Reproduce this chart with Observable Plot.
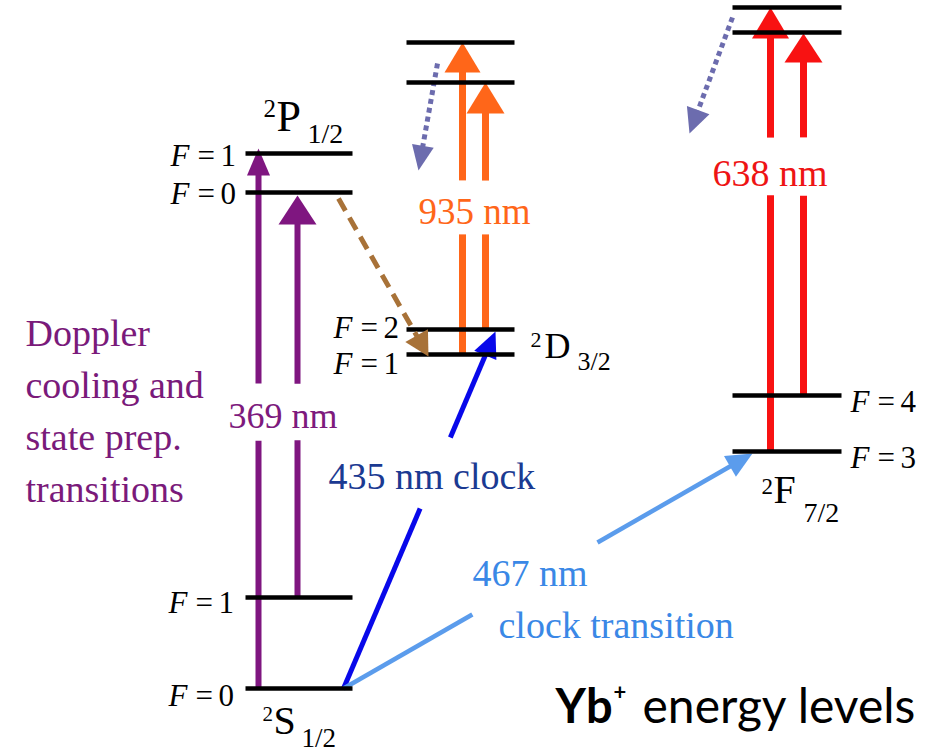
<!DOCTYPE html>
<html>
<head>
<meta charset="utf-8">
<script src="https://cdn.jsdelivr.net/npm/d3@7"></script>
<script src="https://cdn.jsdelivr.net/npm/@observablehq/plot@0.6"></script>
<style>
  html, body { margin: 0; padding: 0; background: #fff; }
  #chart { width: 948px; height: 752px; overflow: hidden; }
</style>
</head>
<body>
<div id="chart"></div>
<script>
// ---------------- DATA ----------------
// Energy levels (arbitrary energy units, higher = more energetic)
const levelTerm   = ["S", "S", "P", "P", "D", "D", "Dx", "Dx", "F", "F", "Fx", "Fx"];
const levelF      = ["0", "1", "0", "1", "1", "2", "",   "",   "3", "4", "",   ""];
const levelEnergy = [64, 155, 560, 599, 398, 423, 670, 710, 301, 357, 720, 745];

// Term symbols
const termKey    = ["S", "P", "D", "F"];
const termLetter = ["S", "P", "D", "F"];
const termSup    = ["2", "2", "2", "2"];
const termSub    = ["1/2", "1/2", "3/2", "7/2"];

// Transitions (start / end in x-column units and energy units)
const transitionName = ["369 nm", "369 nm", "935 nm", "935 nm", "638 nm", "638 nm",
                        "435 nm clock", "467 nm clock", "decay P-D", "decay D", "decay F"];
const arrowX1 = [258, 297, 462, 485, 770, 803, 343, 343, 338, 437, 732];
const arrowE1 = [64, 155, 398, 423, 301, 357, 64, 64, 554, 689, 735];
const arrowX2 = [258, 297, 462, 485, 770, 803, 495, 752, 428, 418, 689];
const arrowE2 = [604, 557, 710, 670, 745, 719, 421, 299, 396, 582, 619];
const arrowGap = [[0.459, 0.565], [0.391, 0.532], [0.385, 0.558], [0.385, 0.603],
                  [0.577, 0.707], [0.552, 0.713], [0.504, 0.703], [0.315, 0.621],
                  null, null, null];

// Texts
const labelText    = ["369 nm", "935 nm", "638 nm", "435 nm clock", "467 nm", "clock transition"];
const dopplerLines = ["Doppler", "cooling and", "state prep.", "transitions"];
const titleParts   = ["Yb", "+", "energy levels"];

// ---------------- LAYOUT / STYLE ----------------
const SERIF = "Liberation Serif";
const SANS = "Lato";
const PURPLE = "#7f1680", ORANGE = "#ff6619", RED = "#f81212", BLUE = "#0808ea",
      LBLUE = "#5b9cec", BROWN = "#a87238", DOT = "#6c6cae";

const colX = {S: [245, 352], P: [245, 352], D: [406, 514], Dx: [406, 514], F: [732, 841], Fx: [732, 841]};
const fLabelX = {S: 168, P: 170, D: 333, F: 850};
const fLabelDrop = [17, 15, 11, 12, 19, 8, 0, 0, 16, 16, 0, 0];
const fLabelSize = 31;

const termLayout = {
  S: {supX: 262, supE: 32,  supSize: 21, letX: 273, letE: 19,  letSize: 40, subX: 301, subE: 6,   subSize: 27},
  P: {supX: 263, supE: 636, supSize: 25, letX: 276, letE: 622, letSize: 44, subX: 307, subE: 610, subSize: 28},
  D: {supX: 530, supE: 406, supSize: 22, letX: 544, letE: 395, letSize: 36, subX: 577, subE: 383, subSize: 26},
  F: {supX: 761, supE: 259, supSize: 23, letX: 773, letE: 250, letSize: 40, subX: 803, subE: 231, subSize: 28}
};

const arrowStyle = [
  {color: PURPLE, width: 6, headW: 23, headL: 27},
  {color: PURPLE, width: 6, headW: 38, headL: 29},
  {color: ORANGE, width: 7, headW: 36, headL: 30},
  {color: ORANGE, width: 7, headW: 38, headL: 31},
  {color: RED, width: 7, headW: 37, headL: 31},
  {color: RED, width: 7, headW: 38, headL: 29},
  {color: BLUE, width: 5, headW: 24, headL: 26},
  {color: LBLUE, width: 4.5, headW: 24, headL: 26},
  {color: BROWN, width: 5, headW: 26, headL: 24, dash: "14,8", top: true},
  {color: DOT, width: 5, headW: 22, headL: 25, dash: "5,4"},
  {color: DOT, width: 5, headW: 24, headL: 25, dash: "5,4"}
];

const labelLayout = [
  {x: 228, e: 325, size: 36, color: "#7d1a7d"},
  {x: 418, e: 529, size: 37, color: ORANGE},
  {x: 712, e: 567, size: 38, color: "#ee1414"},
  {x: 328, e: 264, size: 38, color: "#1b3a92"},
  {x: 472, e: 167, size: 38, color: "#3a88e6"},
  {x: 498, e: 115, size: 38, color: "#3a88e6"}
];
const dopplerX = 25, dopplerE0 = 407, dopplerStep = 52, dopplerSize = 38;

// ---------------- BUILD ----------------
const levels = levelTerm.map((t, i) => ({
  term: t, F: levelF[i], e: levelEnergy[i], x1: colX[t][0], x2: colX[t][1], drop: fLabelDrop[i]
}));
const fLabels = levels.filter(d => d.F !== "").map(d => ({...d, lx: fLabelX[d.term], ly: d.e - d.drop}));

const arrows = transitionName.map((name, i) => ({
  name, x1: arrowX1[i], e1: arrowE1[i], x2: arrowX2[i], e2: arrowE2[i], gap: arrowGap[i], ...arrowStyle[i]
}));

function shaftSegments(a) {
  const len = Math.hypot(a.x2 - a.x1, a.e2 - a.e1);
  const tEnd = (len - a.headL + 2) / len;
  const ranges = a.gap ? [[0, a.gap[0]], [a.gap[1], tEnd]] : [[0, tEnd]];
  return ranges.map(([t0, t1]) => ({
    x1: a.x1 + (a.x2 - a.x1) * t0, e1: a.e1 + (a.e2 - a.e1) * t0,
    x2: a.x1 + (a.x2 - a.x1) * t1, e2: a.e1 + (a.e2 - a.e1) * t1
  }));
}
function headPoly(a) {
  const len = Math.hypot(a.x2 - a.x1, a.e2 - a.e1);
  const ux = (a.x2 - a.x1) / len, uy = (a.e2 - a.e1) / len;
  const bx = a.x2 - a.headL * ux, by = a.e2 - a.headL * uy;
  const nx = -uy, ny = ux, h = a.headW / 2;
  return [{x: a.x2, y: a.e2}, {x: bx + nx * h, y: by + ny * h}, {x: bx - nx * h, y: by - ny * h}];
}
function arrowMarks(a) {
  return [
    Plot.link(shaftSegments(a), {x1: "x1", y1: "e1", x2: "x2", y2: "e2",
      stroke: a.color, strokeWidth: a.width, strokeDasharray: a.dash, strokeLinecap: "butt"}),
    Plot.line(headPoly(a), {x: "x", y: "y", fill: a.color, stroke: "none"})
  ];
}

const terms = termKey.map((k, i) => ({key: k, letter: termLetter[i], sup: termSup[i], sub: termSub[i], ...termLayout[k]}));
const labels = labelText.map((t, i) => ({text: t, ...labelLayout[i]}));
const doppler = dopplerLines.map((t, i) => ({text: t, x: dopplerX, e: dopplerE0 - i * dopplerStep}));

const textBase = {textAnchor: "start", lineAnchor: "bottom", fontFamily: SERIF};

const plot = Plot.plot({
  width: 948, height: 752, margin: 0,
  x: {domain: [0, 948], axis: null},
  y: {domain: [0, 752], axis: null},
  marks: [
    ...arrows.filter(a => !a.top).flatMap(arrowMarks),
    Plot.link(levels, {x1: "x1", x2: "x2", y1: "e", y2: "e", stroke: "black", strokeWidth: 4.5}),
    ...arrows.filter(a => a.top).flatMap(arrowMarks),

    // hyperfine F labels
    Plot.text(fLabels, {...textBase, x: "lx", y: "ly", text: () => "F", fontStyle: "italic", fontSize: fLabelSize, fill: "black"}),
    Plot.text(fLabels, {...textBase, x: d => d.lx + 27, y: "ly", text: () => "=", fontSize: fLabelSize, fill: "black"}),
    Plot.text(fLabels, {...textBase, x: d => d.lx + 50, y: "ly", text: "F", fontSize: fLabelSize, fill: "black"}),

    // term symbols
    Plot.text(terms, {...textBase, x: "supX", y: "supE", text: "sup", fontSize: d => d.supSize, fill: "black"}),
    Plot.text(terms, {...textBase, x: "letX", y: "letE", text: "letter", fontSize: d => d.letSize, fill: "black"}),
    Plot.text(terms, {...textBase, x: "subX", y: "subE", text: "sub", fontSize: d => d.subSize, fill: "black"}),

    // wavelength labels
    ...labels.map(l => Plot.text([l], {...textBase, x: "x", y: "e", text: "text", fontSize: l.size, fill: l.color})),

    // Doppler text
    Plot.text(doppler, {...textBase, x: "x", y: "e", text: "text", fontSize: dopplerSize, fill: "#7a1a7a"}),

    // title
    Plot.text([titleParts[0]], {textAnchor: "start", lineAnchor: "bottom", fontFamily: SANS, x: () => 555, y: () => 30, text: d => d, fontSize: 47, fontWeight: "bold", fill: "black"}),
    Plot.text([titleParts[1]], {textAnchor: "start", lineAnchor: "bottom", fontFamily: SANS, x: () => 613, y: () => 53, text: d => d, fontSize: 22, fontWeight: "bold", fill: "black"}),
    Plot.text([titleParts[2]], {textAnchor: "start", lineAnchor: "bottom", fontFamily: SANS, x: () => 642, y: () => 30, text: d => d, fontSize: 48, fill: "black"})
  ]
});
// force font families with inline styles (serif for physics labels, sans for the title)
d3.select(plot).selectAll("text").each(function () {
  const isTitle = titleParts.includes(this.textContent);
  this.style.fontFamily = isTitle ? "Lato" : "'Liberation Serif'";
});
document.getElementById("chart").append(plot);
</script>
</body>
</html>
